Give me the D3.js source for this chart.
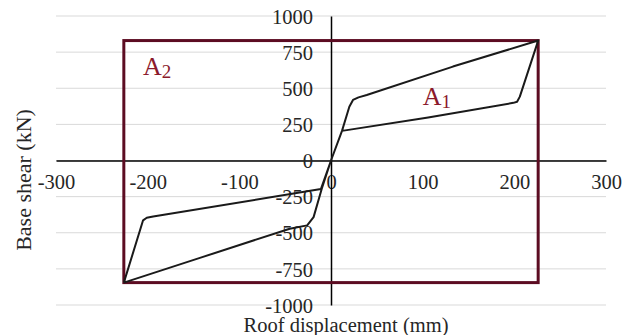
<!DOCTYPE html>
<html>
<head>
<meta charset="utf-8">
<script src="https://cdn.jsdelivr.net/npm/d3@7"></script>
<style>
  body { margin: 0; background: #fff; }
  text { font-family: "Liberation Serif", "Times New Roman", serif; }
</style>
</head>
<body>
<svg id="chart"></svg>
<script>
// tick values
var xTicks = [-300, -200, -100, 0, 100, 200, 300];
var yTicks = [-1000, -750, -500, -250, 0, 250, 500, 750, 1000];

// hysteresis loop, roof displacement (mm) and base shear (kN)
var dispMm  = [-226, -205, -201, -194, -11, 0, 12, 20, 24, 30, 39, 133, 226,
               206, 203, 199, 106, 12, 0, -10, -19, -26, -45, -143, -226];
var shearKn = [-845, -414, -396, -387, -198, 0, 205, 372, 419, 437, 453, 650, 830,
               442, 407, 399, 298, 205, 0, -194, -392, -449, -472, -674, -845];

// bounding rectangle (corners of the loop)
var boxX = [-226, 226];
var boxY = [-845, 830];

// area labels
var areaLabels = [
  {sub: "2", x: -205, y: 592},
  {sub: "1", x: 100, y: 384}
];

var fullWidth = 623;
var fullHeight = 335;

var svg = d3.select("#chart")
  .attr("width", fullWidth)
  .attr("height", fullHeight);

var xScale = d3.scaleLinear().domain([-300, 300]).range([56, 606]);
var yScale = d3.scaleLinear().domain([-1000, 1000]).range([305, 16]);

// horizontal gridlines
svg.append("g")
  .selectAll("line")
  .data(yTicks)
  .join("line")
  .attr("x1", xScale(-300))
  .attr("x2", xScale(300))
  .attr("y1", function(d) { return yScale(d); })
  .attr("y2", function(d) { return yScale(d); })
  .attr("stroke", "#d9d9d9")
  .attr("stroke-width", 1);

// axes through the origin
var xAxis = d3.axisBottom(xScale).tickValues(xTicks).tickSize(0).tickPadding(16);
var yAxis = d3.axisLeft(yScale).tickValues(yTicks).tickSize(0).tickPadding(18);

var xAxisG = svg.append("g")
  .attr("transform", "translate(0," + yScale(0) + ")")
  .call(xAxis);
var yAxisG = svg.append("g")
  .attr("transform", "translate(" + xScale(0) + ",0)")
  .call(yAxis);

[xAxisG, yAxisG].forEach(function(g) {
  g.select(".domain").attr("stroke", "#000").attr("stroke-width", 1.5);
  g.selectAll("text")
    .attr("fill", "#262626")
    .style("font-size", "20.5px")
    .style("font-family", "Liberation Serif");
});
xAxisG.selectAll("text").text(function(d) { return d; }).attr("dy", "0.6em");
yAxisG.selectAll("text").text(function(d) { return d; }).attr("dy", "0.35em");

// rectangle
svg.append("rect")
  .attr("x", xScale(boxX[0]))
  .attr("y", yScale(boxY[1]))
  .attr("width", xScale(boxX[1]) - xScale(boxX[0]))
  .attr("height", yScale(boxY[0]) - yScale(boxY[1]))
  .attr("fill", "none")
  .attr("stroke", "#5c0c22")
  .attr("stroke-width", 3);

// loop curve
var loop = d3.range(dispMm.length).map(function(i) { return [dispMm[i], shearKn[i]]; });
var line = d3.line()
  .x(function(d) { return xScale(d[0]); })
  .y(function(d) { return yScale(d[1]); });

svg.append("path")
  .datum(loop)
  .attr("d", line)
  .attr("fill", "none")
  .attr("stroke", "#1a1a1a")
  .attr("stroke-width", 2)
  .attr("stroke-linejoin", "round");

// A1 / A2 labels
var lab = svg.append("g")
  .selectAll("text")
  .data(areaLabels)
  .join("text")
  .attr("x", function(d) { return xScale(d.x); })
  .attr("y", function(d) { return yScale(d.y); })
  .attr("fill", "#8b1a2c")
  .style("font-size", "26px");
lab.append("tspan").text("A");
lab.append("tspan").attr("dy", 3).style("font-size", "19px").text(function(d) { return d.sub; });

// axis titles
svg.append("text")
  .attr("x", 346)
  .attr("y", 332)
  .attr("text-anchor", "middle")
  .attr("fill", "#262626")
  .style("font-size", "20.5px")
  .text("Roof displacement (mm)");

svg.append("text")
  .attr("transform", "translate(31,180) rotate(-90)")
  .attr("text-anchor", "middle")
  .attr("fill", "#262626")
  .style("font-size", "22px")
  .text("Base shear (kN)");
</script>
</body>
</html>
